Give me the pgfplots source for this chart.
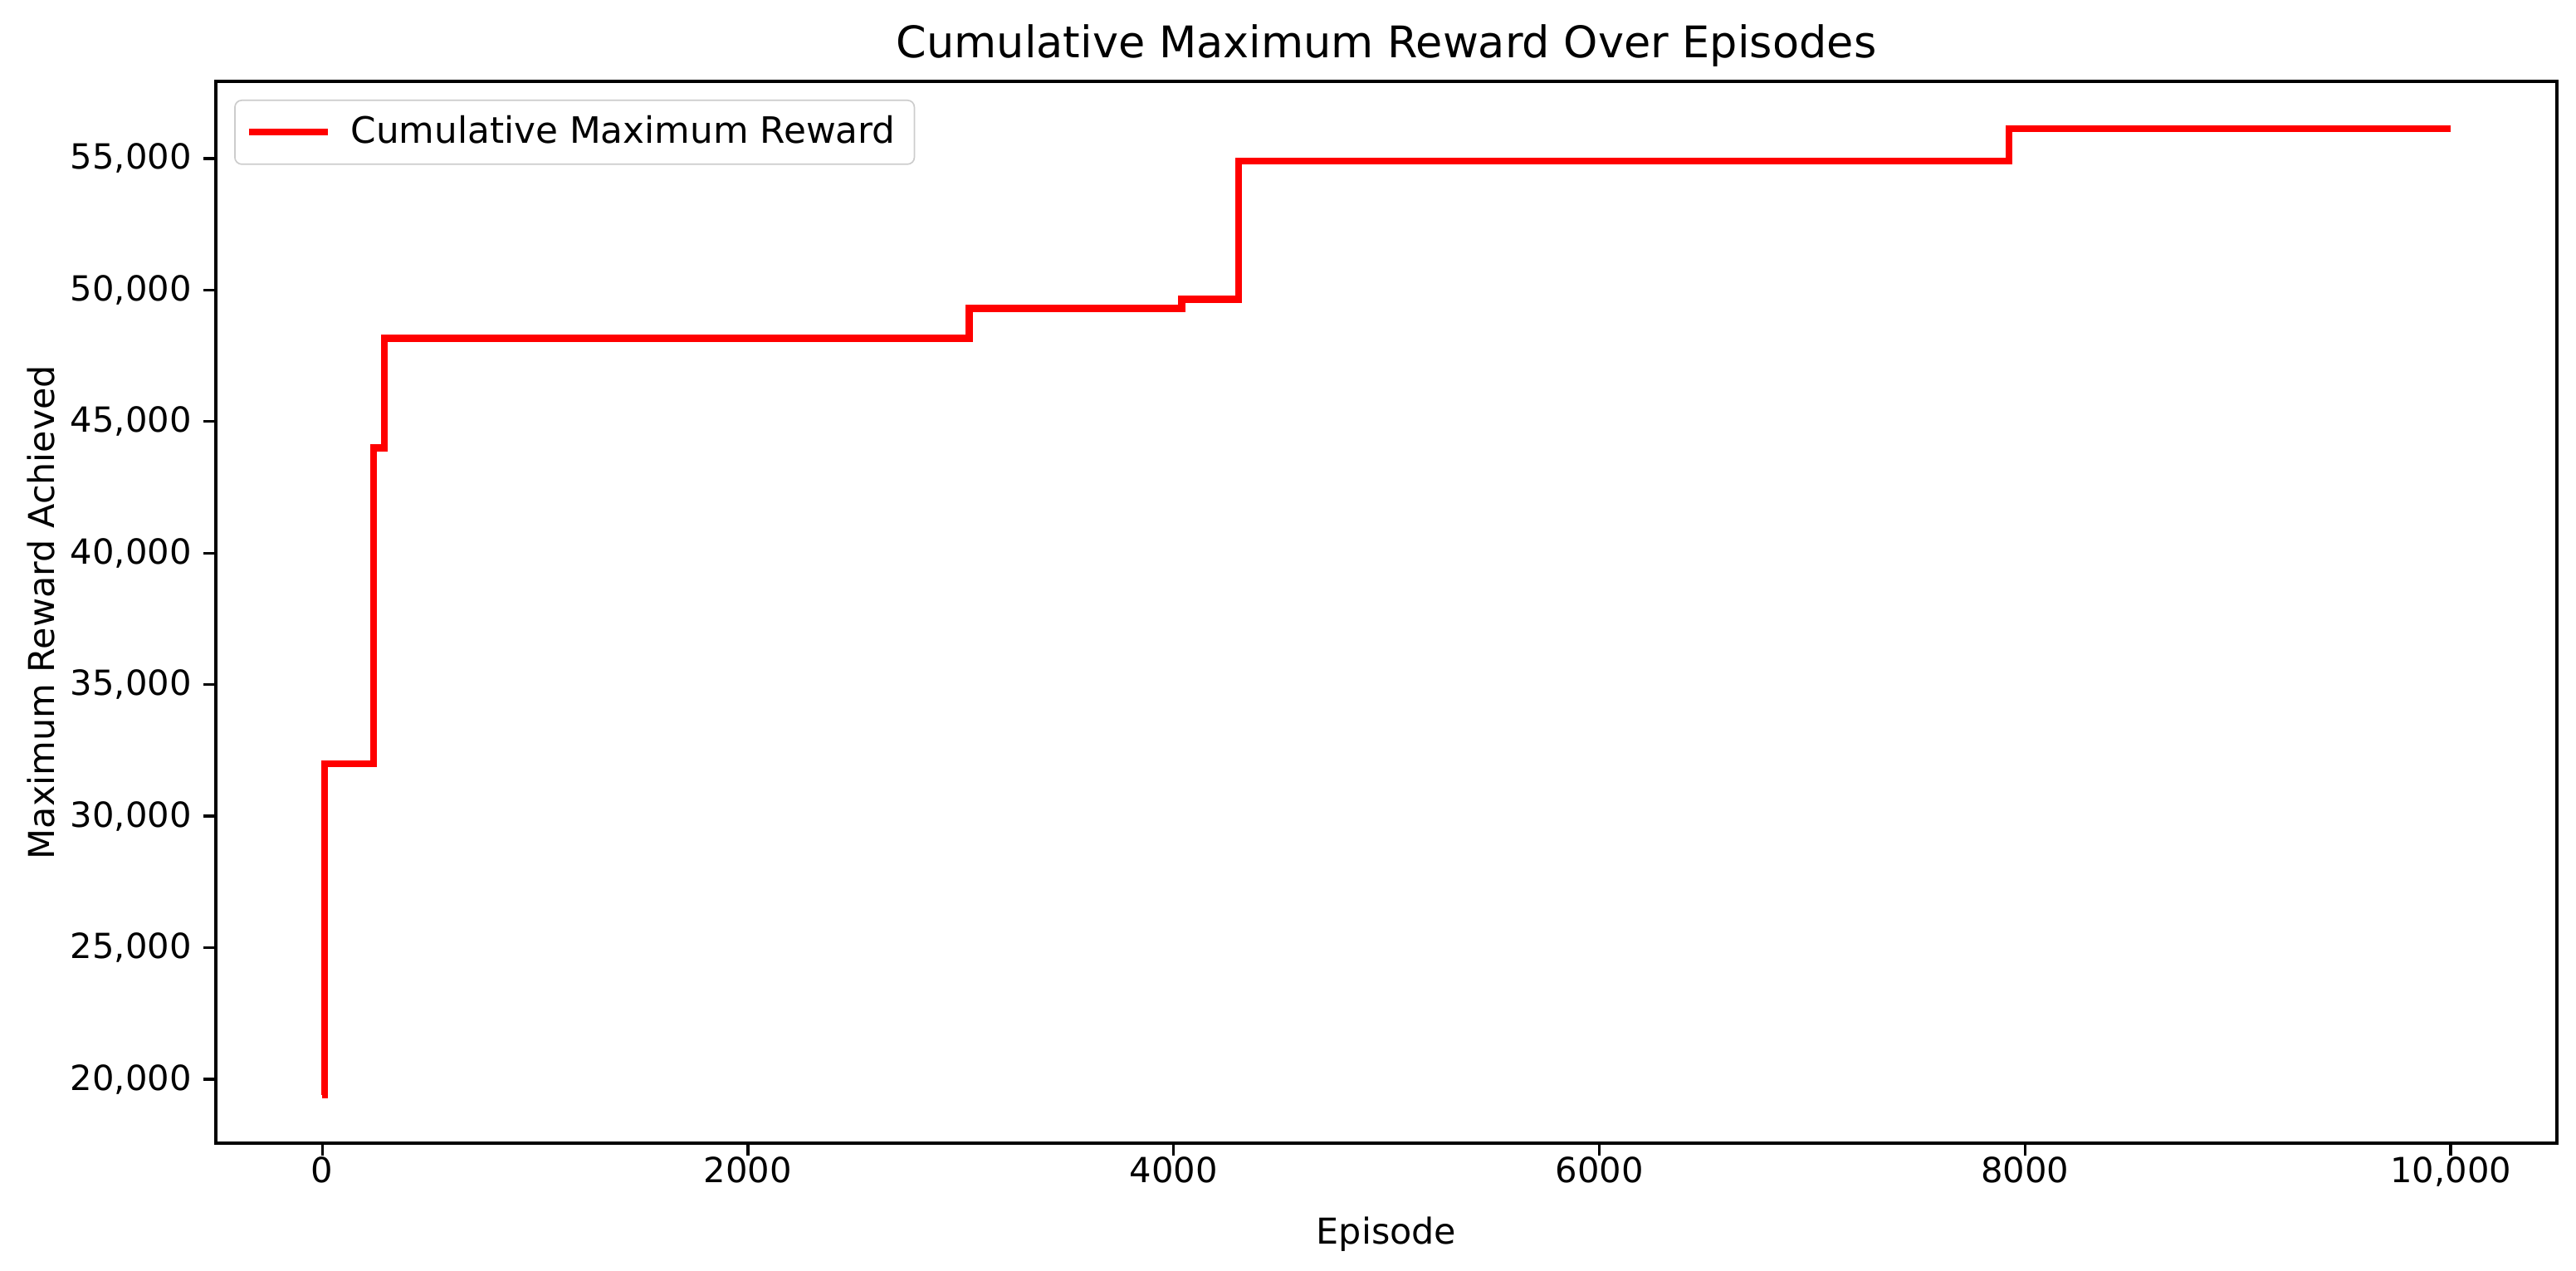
\documentclass[border=0pt]{standalone}
\usepackage{fontspec}
\setmainfont{DejaVu Sans}
\usepackage{pgfplots}
\pgfplotsset{compat=1.18}
\begin{document}
\begin{tikzpicture}
\begin{axis}[
  scale only axis,
  width=676.8pt, height=307pt,
  xmin=-500, xmax=10499,
  ymin=17565, ymax=57935,
  scaled ticks=false,
  axis line style={line width=0.8pt},
  tick style={line width=0.8pt, black},
  tick align=outside,
  tick pos=left,
  major tick length=3.5pt,
  /pgf/number format/assume math mode=true,
  xtick={0,2000,4000,6000,8000,10000},
  xticklabels={0,2000,4000,6000,8000,{10,000}},
  ytick={20000,25000,30000,35000,40000,45000,50000,55000},
  yticklabels={{20,000},{25,000},{30,000},{35,000},{40,000},{45,000},{50,000},{55,000}},
  ticklabel style={font=\fontsize{10}{12}\selectfont},
  xticklabel style={yshift=3.2pt},
  xlabel={Episode},
  ylabel={Maximum Reward Achieved},
  label style={font=\fontsize{10.3}{12}\selectfont},
  xlabel style={at={(axis description cs:0.5,-0.086)}, anchor=center},
  ylabel style={at={(axis description cs:-0.0745,0.5)}, anchor=center},
  title={Cumulative Maximum Reward Over Episodes},
  every axis title/.style={font=\fontsize{12.6}{14}\selectfont,
    at={(axis description cs:0.5,1.0336)}, anchor=center},
  legend style={at={(0,1)}, anchor=north west, xshift=5.3pt, yshift=-5.3pt,
    draw=black!20, rounded corners=2pt, fill=white,
    font=\fontsize{10.5}{12}\selectfont, inner xsep=3pt, inner ysep=2pt,
    nodes={inner sep=2.5pt}},
  legend cell align=left,
  legend image code/.code={\draw[#1, line width=2pt] (0pt,0pt) -- (23pt,0pt); \path (26pt,0pt);},
]
% cumulative max reward
\addplot[const plot, color=red, line width=2pt] coordinates {
  (0,19400) (12,32000) (240,44000) (293,48165) (3040,49304)
  (4038,49652) (4304,54900) (7925,56140) (9999,56140)
};
\addlegendentry{Cumulative Maximum Reward}
\end{axis}
\pgfresetboundingbox
\path[use as bounding box] (-62.4pt,-36.7pt) rectangle (682.3pt,330.5pt);
\end{tikzpicture}
\end{document}
